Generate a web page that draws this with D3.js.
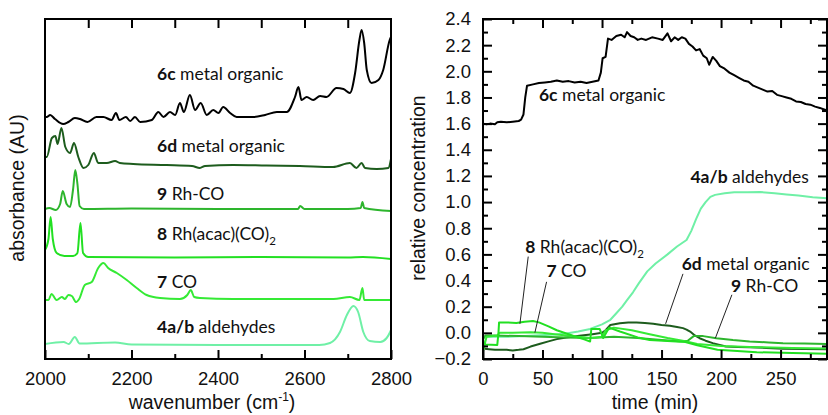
<!DOCTYPE html>
<html lang="en">
<head>
<meta charset="utf-8">
<title>IR spectra and relative concentration</title>
<script src="https://cdn.jsdelivr.net/npm/d3@7"></script>
<style>
  body { margin: 0; background: #fff; }
  svg text { font-family: "Liberation Sans"; fill: #111; }
  svg text.note { font-family: Lato, "Open Sans", sans-serif; font-size: 17.5px; }
  .note .b { font-weight: bold; }
</style>
</head>
<body>
<div id="chart"></div>
<script>

// ---- left panel: IR spectra, [wavenumber, absorbance (offset, AU)]
var spec6c = [[2000,2.42],[2004,2.42],[2012,2.44],[2023,2.40],[2042,2.35],[2054,2.37],[2069,2.41],[2081,2.40],
  [2098,2.37],[2119,2.42],[2135,2.42],[2154,2.39],[2164,2.46],[2172,2.39],[2187,2.42],[2197,2.38],[2208,2.42],
  [2220,2.37],[2247,2.39],[2262,2.47],[2274,2.42],[2289,2.47],[2301,2.44],[2312,2.56],[2321,2.47],[2335,2.64],
  [2347,2.49],[2360,2.56],[2374,2.44],[2389,2.49],[2401,2.46],[2412,2.52],[2428,2.46],[2443,2.42],[2482,2.42],
  [2509,2.44],[2536,2.47],[2559,2.47],[2578,2.62],[2586,2.72],[2593,2.59],[2605,2.62],[2620,2.59],[2636,2.63],
  [2651,2.62],[2674,2.71],[2690,2.70],[2705,2.66],[2717,2.86],[2727,3.19],[2732,3.29],[2738,3.16],[2744,2.89],
  [2755,2.76],[2771,2.79],[2782,2.89],[2797,3.19],[2800,3.22]];
var spec6d = [[2000,2.02],[2004,2.02],[2016,2.21],[2024,2.23],[2029,2.15],[2038,2.31],[2047,2.12],[2058,2.06],
  [2067,2.16],[2077,2.02],[2089,1.91],[2100,1.94],[2113,2.06],[2123,1.96],[2143,1.96],[2162,1.98],[2173,1.96],
  [2204,1.95],[2281,1.94],[2340,1.93],[2358,1.91],[2370,1.93],[2435,1.94],[2512,1.935],[2589,1.93],[2666,1.92],
  [2705,1.96],[2720,1.91],[2732,1.96],[2740,1.91],[2767,1.90],[2794,1.91],[2800,2.0]];
var spec9 = [[2000,1.50],[2010,1.51],[2025,1.49],[2035,1.55],[2041,1.68],[2050,1.55],[2058,1.52],[2065,1.70],
  [2070,1.89],[2075,1.75],[2080,1.53],[2090,1.50],[2200,1.505],[2400,1.50],[2585,1.50],[2590,1.53],[2600,1.50],
  [2700,1.50],[2730,1.51],[2734,1.57],[2738,1.51],[2800,1.48]];
var spec8 = [[2000,1.09],[2008,1.20],[2013,1.42],[2018,1.20],[2027,1.06],[2045,1.03],[2065,1.03],[2075,1.06],
  [2082,1.36],[2088,1.06],[2100,1.02],[2300,1.015],[2500,1.02],[2700,1.015],[2735,1.02],[2800,1.00]];
var spec7 = [[2000,0.59],[2008,0.59],[2015,0.65],[2027,0.59],[2039,0.62],[2046,0.60],[2054,0.64],[2062,0.63],
  [2072,0.57],[2079,0.60],[2092,0.74],[2108,0.77],[2123,0.91],[2135,0.96],[2146,0.91],[2166,0.86],[2189,0.79],
  [2212,0.71],[2235,0.64],[2266,0.61],[2312,0.60],[2329,0.64],[2337,0.69],[2345,0.62],[2358,0.61],[2435,0.60],
  [2667,0.60],[2705,0.62],[2727,0.59],[2734,0.71],[2738,0.59],[2800,0.59]];
var spec4 = [[2000,0.15],[2043,0.17],[2055,0.15],[2069,0.22],[2080,0.155],[2162,0.165],[2200,0.145],[2400,0.14],
  [2600,0.14],[2634,0.14],[2659,0.16],[2682,0.27],[2698,0.44],[2713,0.53],[2724,0.47],[2736,0.27],[2751,0.18],
  [2775,0.17],[2790,0.21],[2798,0.27],[2800,0.29]];

// ---- right panel: relative concentration vs time (min)
var conc6c = [[0,1.60],[3,1.595],[6,1.60],[10,1.595],[12,1.61],[15,1.615],[20,1.61],[25,1.615],[30,1.62],[32,1.63],
  [34,1.67],[35.5,1.80],[37,1.89],[42,1.90],[47,1.91],[52,1.915],[57,1.92],[62,1.93],[67,1.92],[72,1.925],[77,1.915],
  [82,1.92],[87,1.91],[92,1.92],[97,1.93],[99,1.99],[100.5,2.10],[103,2.11],[105,2.25],[108,2.24],[112,2.27],
  [116,2.28],[119,2.26],[121,2.30],[124,2.27],[127,2.26],[130,2.24],[133,2.25],[137,2.24],[142,2.26],[147,2.25],
  [151,2.24],[155,2.29],[158,2.23],[161,2.26],[164,2.24],[167,2.26],[170,2.25],[173,2.21],[176,2.19],[179,2.16],
  [182,2.17],[185,2.12],[188,2.10],[190,2.05],[193,2.11],[196,2.08],[199,2.04],[203,2.02],[207,1.99],[211,1.97],
  [215,1.95],[219,1.93],[223,1.92],[227,1.89],[231,1.875],[235,1.86],[239,1.845],[243,1.85],[247,1.82],[251,1.81],
  [255,1.80],[259,1.79],[263,1.77],[267,1.765],[271,1.75],[275,1.745],[279,1.73],[283,1.72],[286,1.71],[289,1.70]];
var conc4 = [[0,-0.03],[20,-0.03],[40,-0.023],[60,-0.012],[70,-0.005],[80,0.01],[90,0.03],[100,0.065],[107,0.10],
  [112,0.15],[117,0.20],[121,0.25],[126,0.31],[131,0.38],[138,0.47],[145,0.53],[155,0.60],[163,0.66],[171,0.71],
  [175,0.78],[179,0.87],[183,0.95],[187,1.00],[191,1.04],[195,1.055],[203,1.068],[211,1.075],[222,1.076],
  [233,1.077],[245,1.068],[255,1.058],[265,1.05],[277,1.037],[289,1.03]];
var conc6d = [[0,-0.12],[5,-0.125],[10,-0.13],[20,-0.13],[25,-0.135],[30,-0.13],[34,-0.125],[40,-0.105],[48,-0.084],
  [55,-0.065],[62,-0.048],[70,-0.035],[81,-0.023],[92,-0.01],[100,0.0],[103,0.02],[107,0.06],[115,0.074],
  [122,0.08],[129,0.08],[136,0.075],[143,0.069],[150,0.06],[157,0.054],[163,0.045],[168,0.036],[171,0.025],
  [174,0.01],[178,-0.02],[182,-0.041],[187,-0.06],[193,-0.079],[198,-0.09],[204,-0.105],[214,-0.108],
  [224,-0.11],[238,-0.115],[252,-0.122],[270,-0.123],[289,-0.125]];
var conc9 = [[0,-0.05],[2,-0.02],[10,-0.02],[30,-0.025],[50,-0.03],[70,-0.035],[90,-0.04],[110,-0.03],[130,-0.04],
  [150,-0.055],[165,-0.065],[172,-0.06],[177,-0.025],[185,-0.025],[196,-0.041],[210,-0.055],[224,-0.066],
  [240,-0.073],[252,-0.079],[270,-0.082],[289,-0.085]];
var conc8 = [[0,-0.05],[1,-0.08],[2,-0.09],[12,-0.092],[13,0.0],[13.5,0.08],[20,0.08],[28,0.075],[35,0.085],
  [42,0.09],[47,0.08],[55,0.05],[62,0.02],[70,-0.005],[78,-0.03],[85,-0.05],[90,-0.066],[91,0.03],[98,0.03],
  [101,-0.04],[106,0.04],[115,0.01],[130,-0.035],[140,-0.054],[155,-0.062],[170,-0.07],[180,-0.095],
  [197,-0.13],[230,-0.148],[260,-0.155],[289,-0.16]];
var conc7 = [[0,-0.14],[3,-0.03],[12,-0.02],[14,0.0],[25,0.0],[40,0.005],[50,0.0],[60,-0.01],[70,-0.02],
  [80,-0.03],[90,-0.04],[95,-0.035],[100,-0.03],[103,0.02],[110,0.04],[125,0.02],[140,-0.01],[155,-0.04],
  [170,-0.065],[180,-0.085],[200,-0.10],[230,-0.11],[260,-0.115],[289,-0.12]];

var xTicksL = [2000, 2200, 2400, 2600, 2800];
var xTicksR = [0, 50, 100, 150, 200, 250];
var yTicksR = [-0.2, 0.0, 0.2, 0.4, 0.6, 0.8, 1.0, 1.2, 1.4, 1.6, 1.8, 2.0, 2.2, 2.4];

var colors = {c6c: "#000000", c6d: "#1d5c1d", c9: "#2db52d", c8: "#22e022", c7: "#35ea35", c4: "#6ff0a6"};
var AXFONT = "Liberation Sans";

var W = 828, H = 415;
var svg = d3.select("#chart").append("svg").attr("width", W).attr("height", H);

var xL = d3.scaleLinear().domain([2000, 2800]).range([45, 391]);
var yL = d3.scaleLinear().domain([0, 3.4]).range([359, 19]);
var xR = d3.scaleLinear().domain([0, 289]).range([483, 827]);
var yR = d3.scaleLinear().domain([-0.2, 2.4]).range([359, 19]);

function drawLines(x, y, series, curve) {
  var line = d3.line().curve(curve).x(function(d){ return x(d[0]); }).y(function(d){ return y(d[1]); });
  series.forEach(function(s){
    svg.append("path").attr("d", line(s.data)).attr("fill", "none")
      .attr("stroke", s.color).attr("stroke-width", 2).attr("stroke-linejoin", "round");
  });
}

function tickAxis(axis, tx, ty, labels) {
  var g = svg.append("g").attr("transform", "translate(" + tx + "," + ty + ")").call(axis);
  g.attr("font-family", AXFONT);
  g.select(".domain").remove();
  g.selectAll("line").attr("stroke", "#000").attr("stroke-width", 2);
  g.selectAll("text").attr("font-size", 18.5).style("font-family", AXFONT).attr("fill", "#111");
  if (!labels) g.selectAll("text").remove();
  return g;
}

// spectra (6c drawn last so it sits on top)
drawLines(xL, yL, [
  {data: spec4, color: colors.c4}, {data: spec7, color: colors.c7}, {data: spec8, color: colors.c8},
  {data: spec9, color: colors.c9}, {data: spec6d, color: colors.c6d}, {data: spec6c, color: colors.c6c}
], d3.curveMonotoneX);

// left panel axes
var minorL = d3.range(2100, 2800, 200);
tickAxis(d3.axisBottom(xL).tickValues(xTicksL).tickSize(-9).tickPadding(13).tickFormat(d3.format("d")), 0, 359, true);
tickAxis(d3.axisBottom(xL).tickValues(minorL).tickSize(-5), 0, 359, false);
tickAxis(d3.axisTop(xL).tickValues(d3.range(2100, 2800, 100)).tickSize(-9), 0, 19, false);

// concentration traces
drawLines(xR, yR, [
  {data: conc4, color: colors.c4}, {data: conc6d, color: colors.c6d}, {data: conc9, color: colors.c9},
  {data: conc7, color: colors.c7}, {data: conc8, color: colors.c8}, {data: conc6c, color: colors.c6c}
], d3.curveLinear);

// right panel axes
var minorTR = d3.range(25, 289, 50);
var minorYR = d3.range(-0.1, 2.4, 0.2);
tickAxis(d3.axisBottom(xR).tickValues(xTicksR).tickSize(-9).tickPadding(13).tickFormat(d3.format("d")), 0, 359, true);
tickAxis(d3.axisBottom(xR).tickValues(minorTR).tickSize(-5), 0, 359, false);
tickAxis(d3.axisTop(xR).tickValues(xTicksR.slice(1)).tickSize(-9), 0, 19, false);
tickAxis(d3.axisTop(xR).tickValues(minorTR).tickSize(-5), 0, 19, false);
tickAxis(d3.axisLeft(yR).tickValues(yTicksR).tickSize(-9).tickPadding(12).tickFormat(d3.format(".1f")), 483, 0, true);
tickAxis(d3.axisLeft(yR).tickValues(minorYR).tickSize(-5), 483, 0, false);
tickAxis(d3.axisRight(yR).tickValues(yTicksR).tickSize(-9), 827, 0, false);
tickAxis(d3.axisRight(yR).tickValues(minorYR).tickSize(-5), 827, 0, false);

// frames
svg.append("rect").attr("x", xL(2000)).attr("y", yL(3.4)).attr("width", xL(2800) - xL(2000))
  .attr("height", yL(0) - yL(3.4)).attr("fill", "none").attr("stroke", "#000").attr("stroke-width", 2);
svg.append("rect").attr("x", xR(0)).attr("y", yR(2.4)).attr("width", xR(289) - xR(0))
  .attr("height", yR(-0.2) - yR(2.4)).attr("fill", "none").attr("stroke", "#000").attr("stroke-width", 2);

// axis titles
var xt = svg.append("text").attr("x", 212).attr("y", 409).attr("text-anchor", "middle")
  .style("font-family", AXFONT).attr("font-size", 19.5);
xt.append("tspan").text("wavenumber (cm");
xt.append("tspan").attr("dy", -8).attr("font-size", 12).text("-1");
xt.append("tspan").attr("dy", 8).text(")");
svg.append("text").attr("transform", "translate(24,188) rotate(-90)").attr("text-anchor", "middle")
  .style("font-family", AXFONT).attr("font-size", 19.5).text("absorbance (AU)");
svg.append("text").attr("x", 655).attr("y", 409).attr("text-anchor", "middle")
  .style("font-family", AXFONT).attr("font-size", 19.5).text("time (min)");
svg.append("text").attr("transform", "translate(425,188) rotate(-90)").attr("text-anchor", "middle")
  .style("font-family", AXFONT).attr("font-size", 19.5).text("relative concentration");

// labels: bold compound number, then name, optional subscript 2
function note(x, y, bold, rest, sub) {
  var t = svg.append("text").attr("class", "note").attr("x", x).attr("y", y);
  t.append("tspan").attr("class", "b").text(bold);
  t.append("tspan").text(" " + rest);
  if (sub) t.append("tspan").attr("dy", 5).attr("font-size", 11.5).text("2");
}

var notesL = [
  ["6c", "metal organic", false, 2.79], ["6d", "metal organic", false, 2.07], ["9", "Rh-CO", false, 1.59],
  ["8", "Rh(acac)(CO)", true, 1.19], ["7", "CO", false, 0.71], ["4a/b", "aldehydes", false, 0.26]
];
notesL.forEach(function(n){ note(xL(2259), yL(n[3]), n[0], n[1], n[2]); });

var notesR = [
  ["6c", "metal organic", false, 47, 1.776], ["4a/b", "aldehydes", false, 174.3, 1.147],
  ["8", "Rh(acac)(CO)", true, 35.4, 0.612], ["7", "CO", false, 53.3, 0.428],
  ["6d", "metal organic", false, 166.9, 0.482], ["9", "Rh-CO", false, 208.3, 0.315]
];
notesR.forEach(function(n){ note(xR(n[3]), yR(n[4]), n[0], n[1], n[2]); });

// leader lines [t0, v0, t1, v1]
var leaders = [[38, 0.583, 31, 0.069], [53.4, 0.39, 43.6, 0.002], [168, 0.451, 153.4, 0.069], [209.1, 0.291, 195.2, -0.041]];
leaders.forEach(function(l){
  svg.append("line").attr("x1", xR(l[0])).attr("y1", yR(l[1])).attr("x2", xR(l[2])).attr("y2", yR(l[3]))
    .attr("stroke", "#222").attr("stroke-width", 1);
});

</script>
</body>
</html>
